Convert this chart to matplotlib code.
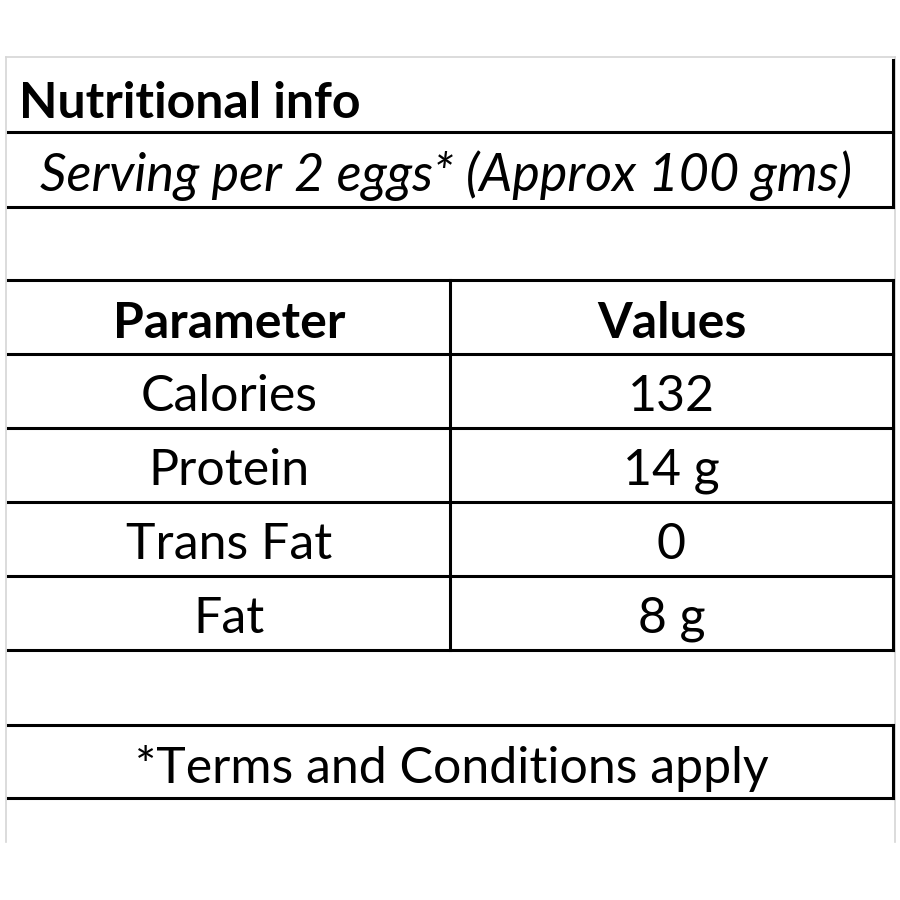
import matplotlib
matplotlib.use("Agg")
import matplotlib.pyplot as plt

title = "Nutritional info"
subtitle = "Serving per 2 eggs* (Approx 100 gms)"
headers = ["Parameter", "Values"]
parameters = ["Calories", "Protein", "Trans Fat", "Fat"]
values = ["132", "14 g", "0", "8 g"]
footnote = "*Terms and Conditions apply"

plt.rcParams['font.family'] = ['Lato', 'DejaVu Sans']

fig = plt.figure(figsize=(9, 9), dpi=100)
ax = fig.add_axes([0, 0, 1, 1])
ax.set_xlim(0, 900)
ax.set_ylim(900, 0)
ax.axis('off')

left, mid, right = 8, 450, 893
black = dict(color='black', lw=2.2, solid_capstyle='projecting')
grey = dict(color='#d6d6d6', lw=1.2)
fs = 36

# faint sheet frame
ax.plot([6, 6], [57, 842], **grey)
ax.plot([895, 895], [57, 842], **grey)
ax.plot([6, 895], [57, 57], **grey)

# title block
ax.plot([right, right], [60, 207], **black)
for y in (132, 207):
    ax.plot([left, right], [y, y], **black)
ax.text(19, 103, title, fontsize=fs, fontweight='bold', va='center', ha='left')
ax.text(446, 176, subtitle, fontsize=37.5, style='italic', va='center', ha='center')

# table
row_h = 74
top = 280
rows = [headers] + [[p, v] for p, v in zip(parameters, values)]
for i in range(len(rows) + 1):
    ax.plot([left, right], [top + i * row_h, top + i * row_h], **black)
bottom = top + len(rows) * row_h
ax.plot([mid, mid], [top, bottom], **black)
ax.plot([right, right], [top, bottom], **black)
for i, (p, v) in enumerate(rows):
    yc = top + i * row_h + row_h / 2 + 6
    w = 'bold' if i == 0 else 'normal'
    ax.text((left + mid) / 2, yc, p, fontsize=fs, fontweight=w, ha='center', va='center')
    ax.text((mid + right) / 2, yc, v, fontsize=fs, fontweight=w, ha='center', va='center')

# footnote box
ax.plot([left, right], [725, 725], **black)
ax.plot([left, right], [798, 798], **black)
ax.plot([right, right], [725, 798], **black)
ax.text(452, 768, footnote, fontsize=fs, ha='center', va='center')

fig.savefig("out.png", dpi=100, facecolor='white')
